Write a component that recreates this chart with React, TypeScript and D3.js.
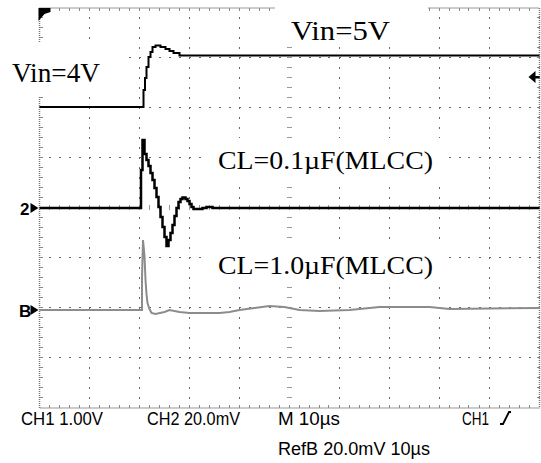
import React from "react";
import * as d3 from "d3";

// time in µs (10 µs/div), CH1 in V (1 V/div), CH2 & RefB in mV (20 mV/div)
const ch1Time = [0, 20.8, 21.1, 21.4, 21.8, 22.2, 22.6, 23.2, 24.2, 25.2, 26.0, 26.8, 28.0, 100];
const ch1Volt = [4.0, 4.34, 4.58, 4.8, 5.0, 5.1, 5.2, 5.23, 5.2, 5.16, 5.12, 5.08, 5.03, 5.03];

const ch2Time = [0, 20.3, 20.6, 21.0, 21.4, 21.8, 22.2, 22.6, 23.0, 23.4, 23.8, 24.2, 24.6, 25.0, 25.4, 25.8, 26.2, 26.6, 27.0, 27.4, 27.8, 28.2, 28.6, 29.2, 29.6, 30.0, 30.4, 30.8, 32.6, 33.4, 34.6, 100];
const ch2mV = [0, 15.2, 27.2, 21.6, 19.2, 16.8, 14, 11.2, 8, 4.4, 0.4, -3.6, -7.6, -11.6, -15.2, -12.8, -10, -6.8, -3.2, 0, 2.4, 3.6, 4.2, 3.6, 2.8, 1.6, 0.4, -0.4, 0, 0.4, 0, 0];

const refTime = [0, 20.5, 20.5, 20.7, 21.0, 21.2, 21.4, 21.6, 22.0, 22.4, 23.2, 25.0, 26.0, 28.0, 30.0, 36.0, 38.0, 40.0, 43.0, 46.0, 49.0, 52.0, 56.0, 62.0, 68.0, 78.0, 82.0, 100];
const refmV = [0, 0, 12.8, 28, 21.6, 12, 6.4, 2.8, 0.4, -1.2, -1.6, -0.8, 0, -0.8, -1.2, -1.2, -0.8, 0, 0.8, 1.6, 1.2, 0, -0.4, 0, 1.2, 1.2, 0.4, 0.8];

const bottomLabels = ["CH1 1.00V", "CH2 20.0mV", "M 10µs", "CH1", "RefB 20.0mV 10µs"];

const W = 541, H = 463;
const X0 = 39.5, X1 = 539.5, Y0 = 8, Y1 = 408;

export default function App() {
  const x = d3.scaleLinear().domain([0, 100]).range([X0, X1]);
  const yDiv = d3.scaleLinear().domain([0, 8]).range([Y1, Y0]);
  const yCh1 = d3.scaleLinear().domain([-2.02, 5.98]).range([Y1, Y0]);
  const yCh2 = d3.scaleLinear().domain([-80, 80]).range([Y1, Y0]);
  const yRef = d3.scaleLinear().domain([-39.2, 120.8]).range([Y1, Y0]);

  const ch1 = ch1Time.map((t, i) => [t, ch1Volt[i]] as [number, number]);
  const ch2 = ch2Time.map((t, i) => [t, ch2mV[i]] as [number, number]);
  const ref = refTime.map((t, i) => [t, refmV[i]] as [number, number]);

  const ch1Line = d3.line<[number, number]>().x(d => x(d[0])).y(d => yCh1(d[1])).curve(d3.curveStepAfter);
  const ch2Line = d3.line<[number, number]>().x(d => x(d[0])).y(d => yCh2(d[1])).curve(d3.curveStepAfter);
  const refLine = d3.line<[number, number]>().x(d => x(d[0])).y(d => yRef(d[1]));

  const xMajor = d3.range(1, 10).map(i => Math.round(x(i * 10)));
  const yMajor = d3.range(1, 8).map(j => Math.round(yDiv(j)));
  const xMinor = d3.range(1, 50).map(i => Math.round(x(i * 2)));
  const yMinor = d3.range(1, 40).map(j => Math.round(yDiv(j / 5)));

  const dots: JSX.Element[] = [];
  xMajor.forEach((gx, i) => {
    if (i === 4) return;
    yMinor.forEach((gy, j) => dots.push(<rect key={`v${i}-${j}`} x={gx - 1} y={gy - 1} width={1} height={2} fill="#666" />));
  });
  yMajor.forEach((gy, i) => {
    if (i === 3) return;
    xMinor.forEach((gx, j) => dots.push(<rect key={`h${i}-${j}`} x={gx - 1} y={gy - 1} width={2} height={1} fill="#666" />));
  });
  // center axes with ticks
  const cx = Math.round(x(50)), cy = Math.round(yDiv(4));
  yMinor.forEach((gy, j) => dots.push(<rect key={`cv${j}`} x={cx - 3} y={gy - 1} width={5} height={1} fill="#999" />));
  xMinor.forEach((gx, j) => dots.push(<rect key={`ch${j}`} x={gx - 1} y={cy - 3} width={1} height={5} fill="#999" />));
  // border ticks
  xMinor.forEach((gx, j) => {
    dots.push(<rect key={`bt${j}`} x={gx - 1} y={Y0} width={1} height={3} fill="#888" />);
    dots.push(<rect key={`bb${j}`} x={gx - 1} y={Y1 - 3} width={1} height={3} fill="#888" />);
  });
  yMinor.forEach((gy, j) => {
    dots.push(<rect key={`bl${j}`} x={X0} y={gy - 1} width={3} height={1} fill="#888" />);
    dots.push(<rect key={`br${j}`} x={X1 - 3} y={gy - 1} width={3} height={1} fill="#888" />);
  });

  const serif = "'Liberation Serif', 'Times New Roman', serif";
  const sans = "'Liberation Sans', Arial, sans-serif";

  const ch2Y = yCh2(0), refY = yRef(0), trigY = yCh1(4.6);

  return (
    <svg width={W} height={H} style={{ position: "absolute", left: 0, top: 0, background: "#fff" }}>
      <rect x={0} y={0} width={W} height={H} fill="#fff" />
      <rect x={X0} y={Y0} width={X1 - X0} height={Y1 - Y0} fill="none" stroke="#777" strokeWidth={1.5} strokeDasharray="1 1" />
      <g shapeRendering="crispEdges">{dots}</g>
      {/* white boxes behind labels */}
      <rect x={0} y={43} width={125} height={53} fill="#fff" />
      <rect x={275} y={0} width={153} height={46} fill="#fff" />
      <rect x={208} y={138} width={235} height={44} fill="#fff" />
      <rect x={208} y={243} width={235} height={44} fill="#fff" />

      <text x={12} y={82} fontFamily={serif} fontSize={28} textLength={88} lengthAdjust="spacingAndGlyphs">Vin=4V</text>
      <text x={291} y={40} fontFamily={serif} fontSize={28} textLength={99} lengthAdjust="spacingAndGlyphs">Vin=5V</text>
      <text x={218} y={169} fontFamily={serif} fontSize={25} textLength={215} lengthAdjust="spacingAndGlyphs">CL=0.1µF(MLCC)</text>
      <text x={218} y={274} fontFamily={serif} fontSize={25} textLength={215} lengthAdjust="spacingAndGlyphs">CL=1.0µF(MLCC)</text>

      <path d={refLine(ref) || ""} fill="none" stroke="#8c8c8c" strokeWidth={2} />
      <path d={ch2Line(ch2) || ""} fill="none" stroke="#000" strokeWidth={2.5} />
      <path d={ch1Line(ch1) || ""} fill="none" stroke="#000" strokeWidth={2} />

      {/* markers */}
      <polygon points={`${X0 - 1},${Y0} ${X0 + 11},${Y0} ${X0 + 11},${Y0 + 4} ${X0 + 5},${Y0 + 6} ${X0 - 1},${Y0 + 13}`} fill="#000" />
      <text x={20} y={ch2Y + 7} fontFamily={sans} fontSize={17} fontWeight="bold">2</text>
      <polygon points={`${X0 - 1},${ch2Y} ${X0 - 9},${ch2Y - 5} ${X0 - 9},${ch2Y + 5}`} fill="#000" />
      <text x={19} y={refY + 7} fontFamily={sans} fontSize={17} fontWeight="bold">B</text>
      <polygon points={`${X0 - 1},${refY} ${X0 - 9},${refY - 5} ${X0 - 9},${refY + 5}`} fill="#000" />
      <polygon points={`${X1 - 11},${trigY} ${X1 - 4},${trigY - 6} ${X1 - 4},${trigY + 6}`} fill="#000" />
      <rect x={X1 - 5} y={trigY - 1} width={5} height={2.5} fill="#000" />

      <text x={21} y={425} fontFamily={sans} fontSize={18} textLength={82} lengthAdjust="spacingAndGlyphs">{bottomLabels[0]}</text>
      <text x={147} y={425} fontFamily={sans} fontSize={18} textLength={93} lengthAdjust="spacingAndGlyphs">{bottomLabels[1]}</text>
      <text x={278} y={425} fontFamily={sans} fontSize={18} textLength={62} lengthAdjust="spacingAndGlyphs">{bottomLabels[2]}</text>
      <text x={462} y={425} fontFamily={sans} fontSize={18} textLength={27} lengthAdjust="spacingAndGlyphs">{bottomLabels[3]}</text>
      <path d="M500,424 L503,424 L509,412 L511,412" fill="none" stroke="#000" strokeWidth={1.8} />
      <text x={278} y={455} fontFamily={sans} fontSize={18} textLength={152} lengthAdjust="spacingAndGlyphs">{bottomLabels[4]}</text>
    </svg>
  );
}
